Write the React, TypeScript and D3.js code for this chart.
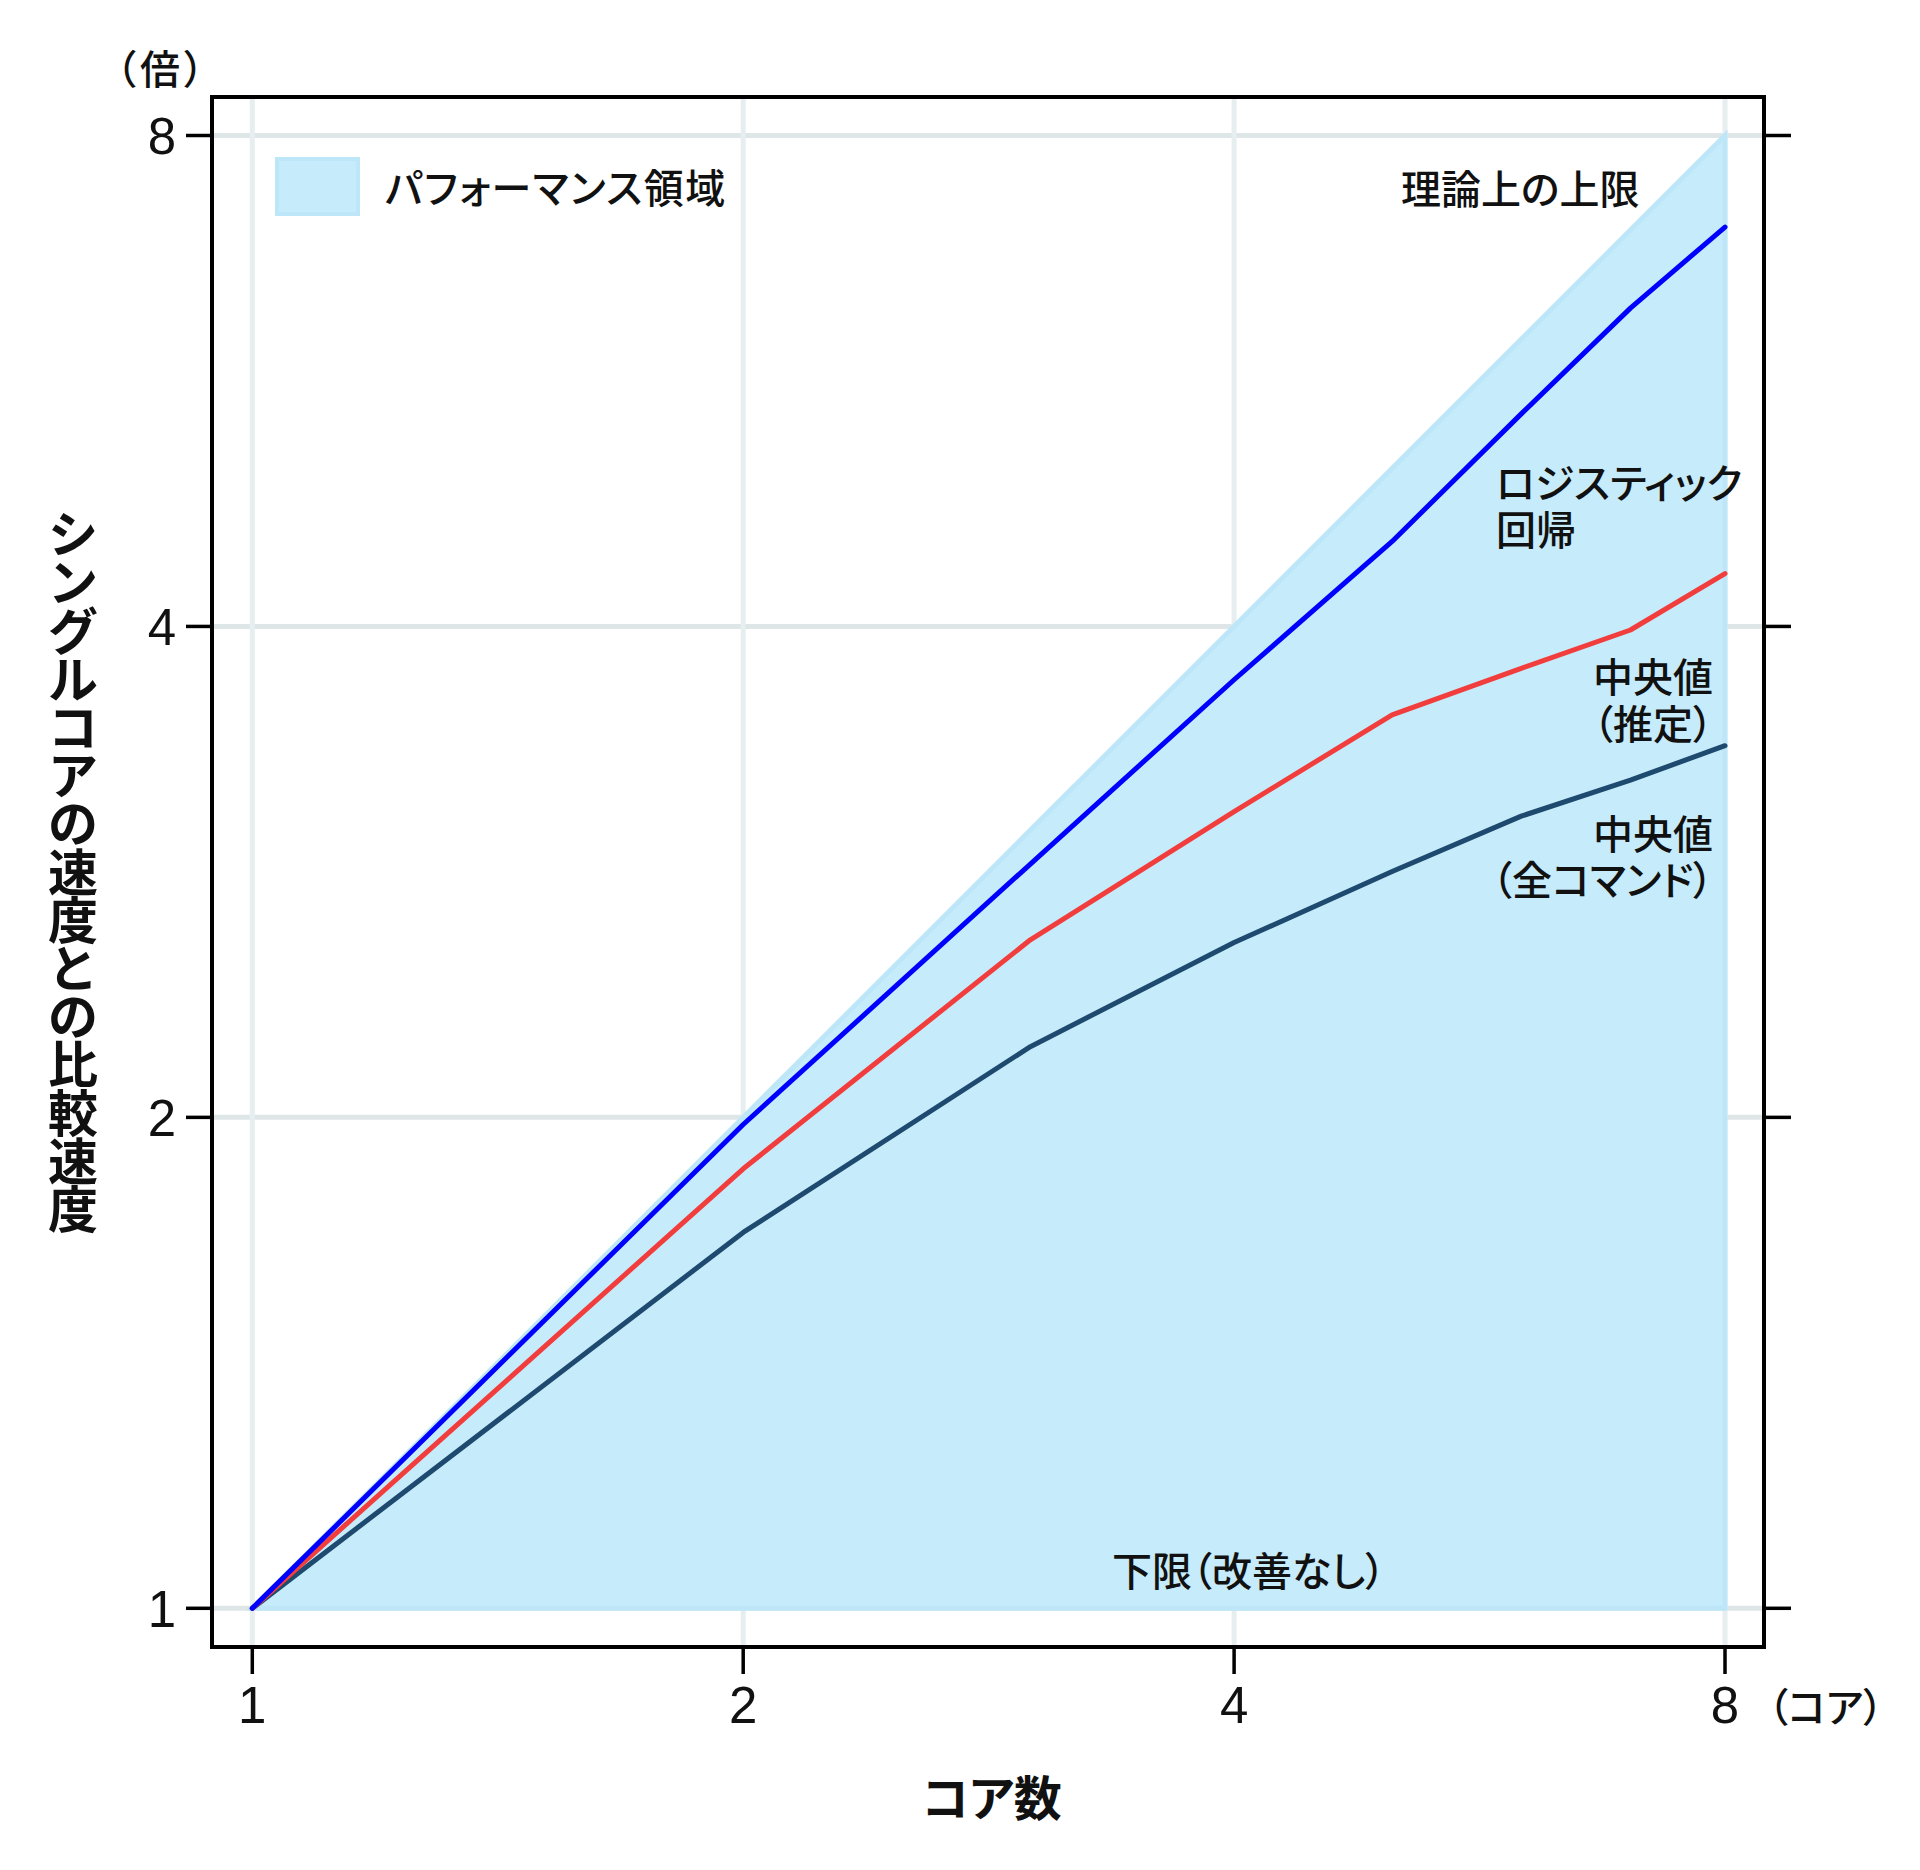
import React from "react";
import * as d3 from "d3";

// ---- data ----
const cores = [1, 2, 3, 4, 5, 6, 7, 8];
const logistic = [1, 1.98, 2.86, 3.71, 4.51, 5.4, 6.27, 7.03];
const medianEstimated = [1, 1.86, 2.57, 3.08, 3.53, 3.77, 3.98, 4.31];
const medianAll = [1, 1.7, 2.21, 2.56, 2.83, 3.06, 3.22, 3.38];
const boundCores = [1, 8];
const upperBound = [1, 8];
const lowerBound = [1, 1];
const xTicks = [1, 2, 4, 8];
const yTicks = [1, 2, 4, 8];
const yTitle = "シングルコアの速度との比較速度";
const xTitle = "コア数";

const W = 1920;
const H = 1870;
const frame = { left: 212, right: 1764, top: 97, bottom: 1647 };

const JP = '"Noto Sans CJK JP", "Noto Sans", sans-serif';
const NUM = '"Liberation Sans", Arial, sans-serif';

export default function App() {
  const x = d3.scaleLog().base(2).domain([1, 8]).range([252.3, 1725]);
  const y = d3.scaleLog().base(2).domain([1, 8]).range([1608.3, 135.5]);

  const area = d3
    .area<number>()
    .x((d) => x(d))
    .y0((_, i) => y(lowerBound[i]))
    .y1((_, i) => y(upperBound[i]));

  const line = (vals: number[]) =>
    d3
      .line<number>()
      .x((d) => x(d))
      .y((_, i) => y(vals[i]))(cores) as string;

  const series = [
    { vals: medianAll, color: "#1f4a6f" },
    { vals: medianEstimated, color: "#f23d3d" },
    { vals: logistic, color: "#0000ff" },
  ];

  const label = (
    text: string,
    px: number,
    py: number,
    anchor: "start" | "end" | "middle" = "start",
    size = 40,
    weight = 500,
    spacing = 0
  ) => (
    <text
      key={text + px + py}
      x={px}
      y={py}
      textAnchor={anchor}
      fontFamily={JP}
      fontSize={size}
      fontWeight={weight}
      fill="#111"
      style={{ fontFeatureSettings: '"palt"', letterSpacing: spacing ? `${spacing}px` : undefined }}
    >
      {text}
    </text>
  );

  const chars = Array.from(yTitle);
  const titleTop = 507;
  const titleBottom = 1230;
  const pitch = (titleBottom - titleTop) / chars.length;

  return (
    <svg
      width={W}
      height={H}
      viewBox={`0 0 ${W} ${H}`}
      style={{ position: "absolute", left: 0, top: 0, background: "#fff" }}
    >
      <rect x={0} y={0} width={W} height={H} fill="#fff" />
      {/* grid */}
      {yTicks.map((t) => (
        <line
          key={"gy" + t}
          x1={frame.left}
          x2={frame.right}
          y1={y(t)}
          y2={y(t)}
          stroke="#dfe6e8"
          strokeWidth={5}
        />
      ))}
      {xTicks.map((t) => (
        <line
          key={"gx" + t}
          x1={x(t)}
          x2={x(t)}
          y1={frame.top}
          y2={frame.bottom}
          stroke="#e6eef0"
          strokeWidth={5}
        />
      ))}
      {/* performance region */}
      <path
        d={area(boundCores) as string}
        fill="#c6ebfb"
        stroke="#bde7f9"
        strokeWidth={5}
        strokeLinejoin="miter"
      />
      {/* lines */}
      {series.map((s, i) => (
        <path
          key={"s" + i}
          d={line(s.vals)}
          fill="none"
          stroke={s.color}
          strokeWidth={5}
          strokeLinecap="round"
          strokeLinejoin="round"
        />
      ))}
      {/* frame */}
      <rect
        x={frame.left}
        y={frame.top}
        width={frame.right - frame.left}
        height={frame.bottom - frame.top}
        fill="none"
        stroke="#000"
        strokeWidth={4}
      />
      {/* ticks */}
      {yTicks.map((t) => (
        <g key={"ty" + t}>
          <line x1={frame.left - 26} x2={frame.left} y1={y(t)} y2={y(t)} stroke="#000" strokeWidth={3.5} />
          <line x1={frame.right} x2={frame.right + 27} y1={y(t)} y2={y(t)} stroke="#000" strokeWidth={3.5} />
          <text
            x={176}
            y={y(t)}
            dy="0.36em"
            textAnchor="end"
            fontFamily={NUM}
            fontSize={51}
            fill="#111"
          >
            {t}
          </text>
        </g>
      ))}
      {xTicks.map((t) => (
        <g key={"tx" + t}>
          <line x1={x(t)} x2={x(t)} y1={frame.bottom} y2={frame.bottom + 27} stroke="#000" strokeWidth={3.5} />
          <text x={x(t)} y={1723} textAnchor="middle" fontFamily={NUM} fontSize={51} fill="#111">
            {t}
          </text>
        </g>
      ))}
      {/* unit labels */}
      {label("（倍）", 116, 84, "start", 40, 500, 4)}
      {label("（コア）", 1768, 1722, "start", 40)}
      {/* axis titles */}
      {label(xTitle, 992, 1816, "middle", 48, 700)}
      {chars.map((c, i) => (
        <text
          key={"yt" + i}
          x={73}
          y={titleTop + pitch * (i + 0.5)}
          dominantBaseline="central"
          textAnchor="middle"
          fontFamily={JP}
          fontSize={50}
          fontWeight={700}
          fill="#111"
        >
          {c}
        </text>
      ))}
      {/* legend */}
      <rect x={277} y={159} width={81} height={55} fill="#c6ebfb" stroke="#bde7f9" strokeWidth={4} />
      {label("パフォーマンス領域", 385, 203, "start", 40, 500, 1.5)}
      {/* annotations */}
      {label("理論上の上限", 1401, 204)}
      {label("ロジスティック", 1496, 498)}
      {label("回帰", 1496, 545)}
      {label("中央値", 1713, 692, "end")}
      {label("（推定）", 1713, 739, "end")}
      {label("中央値", 1713, 849, "end")}
      {label("（全コマンド）", 1713, 895, "end")}
      {label("下限（改善なし）", 1112, 1586)}
    </svg>
  );
}
